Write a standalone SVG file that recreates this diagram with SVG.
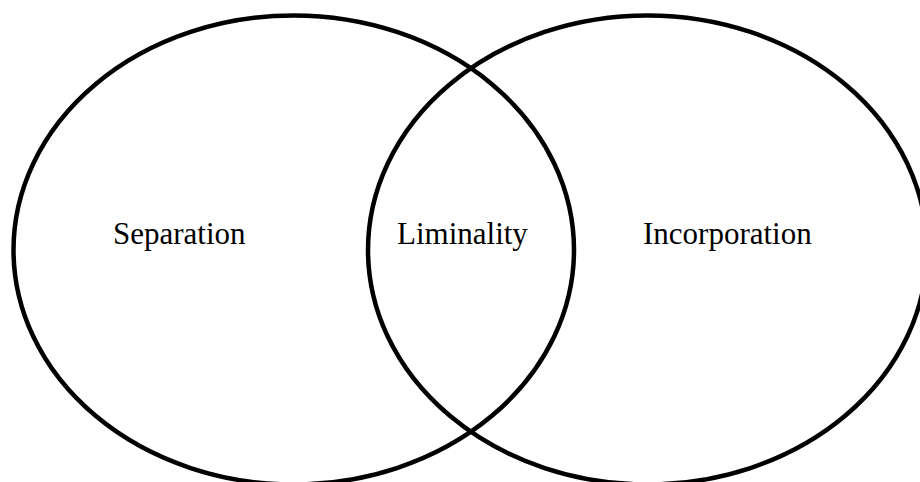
<svg xmlns="http://www.w3.org/2000/svg" width="920" height="482" viewBox="0 0 920 482">
<style>
.c{fill:none;stroke:#000;stroke-width:4.5}
.t{font-family:"Liberation Serif","Times New Roman",serif;font-size:31px;fill:#000}
</style>
<rect width="920" height="482" fill="#fff"/>
<g id="separation">
<ellipse class="c" cx="293.75" cy="250" rx="280.25" ry="234.5"/>
<text class="t" x="113" y="244">Separation</text>
</g>
<g id="incorporation">
<ellipse class="c" cx="647.5" cy="250" rx="279.5" ry="234.5"/>
<text class="t" x="643" y="244">Incorporation</text>
</g>
<g id="liminality">
<text class="t" x="397" y="244">Liminality</text>
</g>
<g id="connectors"></g>
</svg>
